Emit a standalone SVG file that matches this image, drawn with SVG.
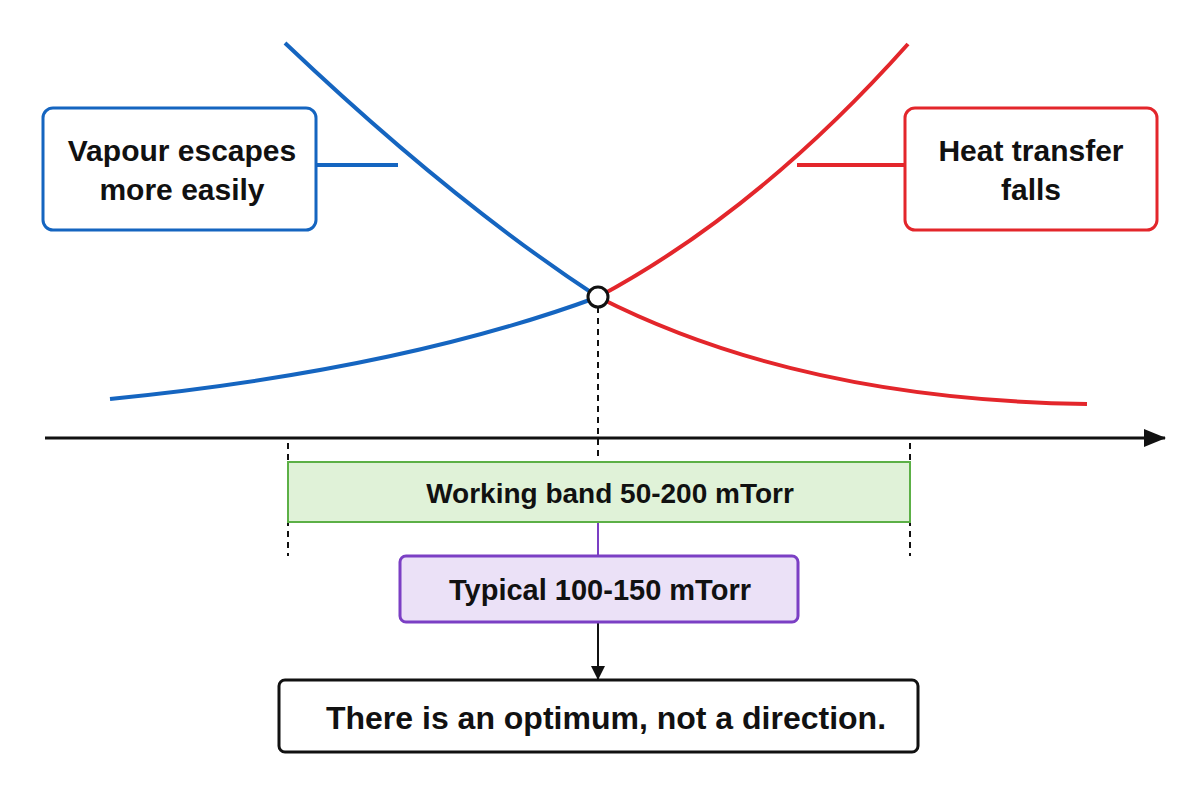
<svg xmlns="http://www.w3.org/2000/svg" width="1200" height="800" viewBox="0 0 1200 800">
<style>
text{font-family:"Liberation Sans",Arial,sans-serif;font-weight:bold;text-anchor:middle;fill:#111}
.b{stroke:#1565c0;stroke-width:4;fill:none}
.r{stroke:#e3262b;stroke-width:4;fill:none}
.d{stroke:#111;stroke-width:2;stroke-dasharray:6,5;fill:none}
</style>
<defs><marker id="ah" markerWidth="14" markerHeight="14" refX="13" refY="7" orient="auto" markerUnits="userSpaceOnUse"><path d="M0,0 L14,7 L0,14Z" fill="#111"/></marker>
<marker id="ah2" markerWidth="22" markerHeight="18" refX="21" refY="9" orient="auto" markerUnits="userSpaceOnUse"><path d="M0,0 L22,9 L0,18Z" fill="#111"/></marker></defs>
<rect width="1200" height="800" fill="#fff"/>
<g id="connectors">
<path class="b" d="M285,43 Q450,200 598,297"/>
<path class="b" d="M110,399 Q400,370 598,297"/>
<path class="r" d="M908,44 Q760,210 598,297"/>
<path class="r" d="M598,297 Q800,400 1087,404"/>
<line class="b" stroke-width="3" x1="316" y1="165" x2="398" y2="165"/>
<line class="r" stroke-width="3" x1="797" y1="165" x2="905" y2="165"/>
<line x1="45" y1="438" x2="1165" y2="438" stroke="#111" stroke-width="3" marker-end="url(#ah2)"/>
<line class="d" x1="598" y1="307" x2="598" y2="462"/>
<line class="d" x1="288" y1="443" x2="288" y2="556"/>
<line class="d" x1="910" y1="443" x2="910" y2="556"/>
<line x1="598" y1="522" x2="598" y2="556" stroke="#7b3fc4" stroke-width="2"/>
<line x1="598" y1="622" x2="598" y2="679" stroke="#111" stroke-width="2" marker-end="url(#ah)"/>
</g>
<g id="optimum"><circle cx="598" cy="297" r="10" fill="#fff" stroke="#111" stroke-width="3"/></g>
<g id="vapour"><rect x="43" y="108" width="273" height="122" rx="10" fill="#fff" stroke="#1565c0" stroke-width="3"/>
<text x="182" y="161" font-size="30">Vapour escapes</text><text x="182" y="200" font-size="30">more easily</text></g>
<g id="heat"><rect x="905" y="108" width="252" height="122" rx="10" fill="#fff" stroke="#e3262b" stroke-width="3"/>
<text x="1031" y="161" font-size="30">Heat transfer</text><text x="1031" y="200" font-size="30">falls</text></g>
<g id="band"><rect x="288" y="462" width="622" height="60" fill="#e0f2d8" stroke="#5cb046" stroke-width="2"/>
<text x="610" y="503" font-size="28">Working band 50-200 mTorr</text></g>
<g id="typical"><rect x="400" y="556" width="398" height="66" rx="6" fill="#ebe1f7" stroke="#7b3fc4" stroke-width="3"/>
<text x="600" y="600" font-size="29">Typical 100-150 mTorr</text></g>
<g id="optimumText"><rect x="279" y="680" width="639" height="72" rx="6" fill="#fff" stroke="#111" stroke-width="3"/>
<text x="606" y="729" font-size="32">There is an optimum, not a direction.</text></g>
</svg>
